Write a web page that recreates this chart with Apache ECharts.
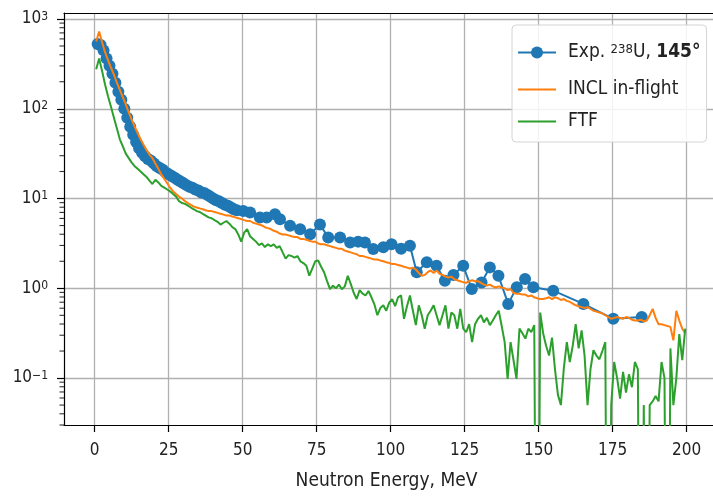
<!DOCTYPE html>
<html><head><meta charset="utf-8">
<script src="https://cdn.jsdelivr.net/npm/echarts@6/dist/echarts.min.js"></script>
<style>html,body{margin:0;padding:0;background:#fff;overflow:hidden}#c{width:720px;height:496px}</style>
</head><body><div id="c"></div>
<script>
// ---------------- data ----------------
const xTickValues = [0, 25, 50, 75, 100, 125, 150, 175, 200];
const yDecadeExponents = [-1, 0, 1, 2, 3];
const expName = 'Exp. 238U, 145°';
const seriesNames = [expName, 'INCL in-flight', 'FTF'];

// bin centres (MeV) shared by the two simulations
const binCentreMeV = [
  0.5,1.5,2.5,3.5,4.5,5.5,6.5,7.5,8.5,9.5,
  10.5,11.5,12.5,13.5,14.5,15.5,16.5,17.5,18.5,19.5,
  20.5,21.5,22.5,23.5,24.5,25.5,26.5,27.5,28.5,29.5,
  30.5,31.5,32.5,33.5,34.5,35.5,36.5,37.5,38.5,39.5,
  40.5,41.5,42.5,43.5,44.5,45.5,46.5,47.5,48.5,49.5,
  50.5,51.5,52.5,53.5,54.5,55.5,56.5,57.5,58.5,59.5,
  60.5,61.5,62.5,63.5,64.5,65.5,66.5,67.5,68.5,69.5,
  70.5,71.5,72.5,73.5,74.5,75.5,76.5,77.5,78.5,79.5,
  80.5,81.5,82.5,83.5,84.5,85.5,86.5,87.5,88.5,89.5,
  90.5,91.5,92.5,93.5,94.5,95.5,96.5,97.5,98.5,99.5,
  100.5,101.5,102.5,103.5,104.5,105.5,106.5,107.5,108.5,109.5,
  110.5,111.5,112.5,113.5,114.5,115.5,116.5,117.5,118.5,119.5,
  120.5,121.5,122.5,123.5,124.5,125.5,126.5,127.5,128.5,129.5,
  130.5,131.5,132.5,133.5,134.5,135.5,136.5,137.5,138.5,139.5,
  140.5,141.5,142.5,143.5,144.5,145.5,146.5,147.5,148.5,149.5,
  150.5,151.5,152.5,153.5,154.5,155.5,156.5,157.5,158.5,159.5,
  160.5,161.5,162.5,163.5,164.5,165.5,166.5,167.5,168.5,169.5,
  170.5,171.5,172.5,173.5,174.5,175.5,176.5,177.5,178.5,179.5,
  180.5,181.5,182.5,183.5,184.5,185.5,186.5,187.5,188.5,189.5,
  190.5,191.5,192.5,193.5,194.5,195.5,196.5,197.5,198.5,199.5
];

const inclYield = [
  562,724,550,427,347,288,240,195,162,135,
  112,91.2,75.9,63.1,53.7,45.7,39.8,34.7,30.9,28.2,
  24.5,21.4,18.6,16.6,14.8,13.2,12.0,11.2,10.5,10.0,
  9.33,8.91,8.51,8.13,7.94,7.76,7.59,7.41,7.24,7.24,
  7.08,6.92,6.76,6.61,6.46,6.46,6.31,6.17,6.03,5.89,
  5.75,5.62,5.62,5.37,5.25,5.13,5.01,4.79,4.68,4.57,
  4.37,4.27,4.07,3.98,3.98,3.89,3.80,3.72,3.72,3.55,
  3.55,3.47,3.39,3.31,3.31,3.16,3.09,3.09,3.02,2.95,
  2.88,2.82,2.75,2.75,2.63,2.57,2.51,2.45,2.40,2.29,
  2.29,2.24,2.19,2.14,2.09,2.09,2.04,2.00,1.95,1.91,
  1.86,1.86,1.82,1.78,1.74,1.70,1.66,1.70,1.62,1.48,
  1.38,1.41,1.51,1.58,1.48,1.58,1.45,1.41,1.35,1.32,
  1.35,1.26,1.23,1.20,1.17,1.15,1.20,1.23,1.20,1.20,
  1.15,1.10,1.07,1.10,1.05,1.02,1.05,1.02,1.00,0.955,
  0.977,0.891,0.871,0.871,0.851,0.851,0.813,0.832,0.794,0.776,
  0.759,0.759,0.776,0.794,0.759,0.794,0.776,0.741,0.759,0.724,
  0.708,0.676,0.646,0.631,0.617,0.603,0.617,0.589,0.562,0.550,
  0.537,0.525,0.501,0.479,0.457,0.468,0.479,0.468,0.457,0.479,
  0.468,0.447,0.437,0.437,0.447,0.427,0.437,0.501,0.589,0.468,
  0.398,0.398,0.389,0.380,0.372,0.263,0.562,0.437,0.355,0.316
];

const ftfYield = [
  275,363,263,186,138,105,79.4,60.3,45.7,38.0,
  31.6,28.2,25.1,22.9,21.4,20.0,18.6,17.4,15.8,14.5,
  16.2,15.1,13.8,13.2,12.6,12.0,11.2,10.5,9.33,8.91,
  8.71,8.32,7.94,7.59,7.24,7.08,6.76,6.46,6.17,6.03,
  5.75,5.50,5.13,5.37,5.62,5.25,4.79,4.57,3.98,3.31,
  4.17,4.57,3.80,3.55,3.31,3.02,3.16,2.88,3.09,2.95,
  3.09,2.82,2.95,2.51,2.14,2.34,2.29,2.19,2.29,2.00,
  1.91,1.78,1.38,1.66,2.00,2.04,1.74,1.51,1.20,0.977,
  1.07,1.00,1.10,0.977,1.05,1.38,1.12,0.891,0.759,0.955,
  0.871,0.832,0.933,0.794,0.661,0.501,0.603,0.646,0.562,0.692,
  0.759,0.631,0.794,0.832,0.457,0.631,0.832,0.562,0.389,0.646,
  0.501,0.355,0.501,0.562,0.646,0.501,0.389,0.501,0.646,0.355,
  0.537,0.501,0.355,0.589,0.355,0.324,0.398,0.251,0.398,0.457,
  0.501,0.417,0.468,0.389,0.437,0.501,0.562,0.380,0.251,0.098,
  0.251,0.158,0.098,0.355,0.316,0.275,0.355,0.324,0.389,0,
  0.537,0.316,0.229,0.178,0.282,0.126,0.065,0.050,0.129,0.251,
  0.151,0.229,0.398,0.214,0.339,0.178,0.050,0.126,0.204,0.178,
  0.162,0.200,0.251,0,0.050,0.151,0.100,0.059,0.117,0.069,
  0.110,0.079,0.151,0.126,0,0.050,0,0.050,0.055,0.063,
  0.055,0.151,0.100,0,0.214,0.050,0.100,0.309,0.158,0.355
];

const expEnergyMeV = [
  1,2,3,4,5,6,7,8,9,10,11,12,13,14,15,16,17,18,19,20,
  21,22,23,24,25,26,27,28,29,30,31,32,33,34,35,36,37,38,39,40,
  41,42,43,44,45,46,47,48,
  50.2,52.5,55.8,58.1,60.9,62.6,66.0,69.4,72.8,76.1,
  78.9,82.9,86.3,89.0,91.3,94.1,97.5,100.3,103.5,106.5,
  108.8,112.2,115.5,118.3,121.2,124.5,127.4,130.7,133.5,136.4,
  139.7,142.6,145.4,148.2,154.9,165.1,175.2,184.8
];
const expYield = [
  525,513,447,363,302,245,195,155,126,100,79.4,63.1,51.3,42.7,36.3,32.4,29.5,27.5,26.3,24.5,
  22.9,21.9,20.9,19.5,18.6,17.8,17.0,16.2,15.5,14.8,14.1,13.5,13.2,12.6,12.3,11.7,11.5,11.0,10.5,10.0,
  9.55,9.33,8.91,8.51,8.32,7.94,7.59,7.41,
  7.28,6.98,6.15,6.15,6.70,5.89,4.97,4.56,4.01,5.13,
  3.69,3.69,3.24,3.31,3.24,2.74,2.86,3.10,2.75,2.98,
  1.51,1.95,1.78,1.21,1.41,1.78,0.98,1.16,1.71,1.38,
  0.67,1.03,1.27,1.03,0.94,0.67,0.457,0.479
];

// ---------------- chart ----------------
const FONT = "'DejaVu Sans Condensed', 'DejaVu Sans', sans-serif";
const TXT = '#222';
// the plot frame runs past the right edge of the 713 px view, as in the reference
const X_MIN = -10.37, X_MAX = 209.9;
const yLow = 0.03, yHigh = 1166;
const toLog = v => (v > 0 ? Math.log10(v) : -6);   // zero bins fall off the bottom, as in a log plot
const pairs = (xs, ys) => xs.map((x, i) => [x, toLog(ys[i])]);

// minor log ticks (2..9 x 10^n) drawn as short marks on the left spine
const minorTickMarks = [];
for (let n = -2; n <= 2; n++) {
  for (let k = 2; k <= 9; k++) {
    const v = Math.log10(k * Math.pow(10, n));
    if (v >= Math.log10(yLow) && v <= Math.log10(yHigh)) minorTickMarks.push([X_MIN, v]);
  }
}

const chart = echarts.init(document.getElementById('c'), null, {renderer: 'canvas'});
chart.setOption({
  animation: false,
  backgroundColor: '#fff',
  grid: {left: 64, right: 4, top: 13, bottom: 69, show: false},
  xAxis: [{
    type: 'value', min: X_MIN, max: X_MAX, position: 'bottom',
    axisLine: {show: true, onZero: false, lineStyle: {color: '#000', width: 1.2}},
    axisTick: {show: true, customValues: xTickValues, length: 7, lineStyle: {color: '#000', width: 1.2}},
    axisLabel: {customValues: xTickValues, margin: 17, color: TXT, fontFamily: FONT, fontSize: 17},
    splitLine: {show: true, lineStyle: {color: '#b0b0b0', width: 1.3}},
    name: 'Neutron Energy, MeV', nameLocation: 'middle', nameGap: 47,
    nameTextStyle: {color: TXT, fontFamily: FONT, fontSize: 19, padding: [0, 7, 0, 0]}
  }, {
    type: 'value', min: X_MIN, max: X_MAX, position: 'top',
    axisLine: {show: true, onZero: false, lineStyle: {color: '#000', width: 1.2}},
    axisTick: {show: false}, axisLabel: {show: false}, splitLine: {show: false}
  }],
  yAxis: [{
    type: 'value', position: 'left', min: Math.log10(yLow), max: Math.log10(yHigh),
    axisLine: {show: true, onZero: false, lineStyle: {color: '#000', width: 1.2}},
    axisTick: {show: true, customValues: yDecadeExponents, length: 7, lineStyle: {color: '#000', width: 1.2}},
    axisLabel: {
      customValues: yDecadeExponents, margin: 16, color: TXT, fontFamily: FONT,
      formatter: v => '{b|10}{s|' + (v < 0 ? '\u2212' + (-v) : v) + '}',
      rich: {
        b: {fontFamily: FONT, fontSize: 17, lineHeight: 17, color: TXT, verticalAlign: 'bottom', padding: [5, 0, 0, 0]},
        s: {fontFamily: FONT, fontSize: 12, lineHeight: 12, color: TXT, verticalAlign: 'top'}
      }
    },
    splitLine: {show: true, lineStyle: {color: '#b0b0b0', width: 1.3}}
  }],
  legend: {
    data: [
      {name: seriesNames[0]},
      {name: seriesNames[1], itemStyle: {opacity: 0}},
      {name: seriesNames[2], itemStyle: {opacity: 0}}
    ],
    orient: 'vertical', left: 512, top: 25,
    padding: [18, 6, 11, 5], itemGap: 13, itemWidth: 38, itemHeight: 15,
    backgroundColor: 'rgba(255,255,255,0.85)', borderColor: '#d4d4d4', borderWidth: 1, borderRadius: 4,
    formatter: name => name === expName
      ? '{f|Exp. }{sup|238}{n|U, }{bd|145°}'
      : '{f|' + name + '}',
    textStyle: {
      fontFamily: FONT, fontSize: 19, color: TXT,
      rich: {
        f: {fontFamily: FONT, fontSize: 19, lineHeight: 19, color: TXT, verticalAlign: 'bottom', padding: [0, 0, 0, 7]},
        n: {fontFamily: FONT, fontSize: 19, lineHeight: 19, color: TXT, verticalAlign: 'bottom'},
        bd: {fontFamily: FONT, fontSize: 19, lineHeight: 19, color: TXT, fontWeight: 'bold', verticalAlign: 'bottom'},
        sup: {fontFamily: FONT, fontSize: 13, lineHeight: 13, color: TXT, verticalAlign: 'top', padding: [0, 0, 11, 0]}
      }
    }
  },
  series: [{
    name: expName, type: 'line', data: pairs(expEnergyMeV, expYield),
    symbol: 'circle', symbolSize: 12, showSymbol: true, showAllSymbol: true,
    lineStyle: {width: 2, color: '#1f77b4'}, itemStyle: {color: '#1f77b4', borderWidth: 0},
    clip: true, z: 2
  }, {
    name: 'INCL in-flight', type: 'line', data: pairs(binCentreMeV, inclYield),
    symbol: 'none', showSymbol: false,
    lineStyle: {width: 2, color: '#ff7f0e'}, itemStyle: {color: '#ff7f0e'},
    clip: true, z: 3
  }, {
    name: 'FTF', type: 'line', data: pairs(binCentreMeV, ftfYield),
    symbol: 'none', showSymbol: false,
    lineStyle: {width: 2, color: '#2ca02c'}, itemStyle: {color: '#2ca02c'},
    clip: true, z: 4
  }, {
    name: 'minor ticks', type: 'scatter', data: minorTickMarks,
    symbol: 'rect', symbolSize: [4.5, 1.1], symbolOffset: [-2.25, 0],
    itemStyle: {color: '#000'}, silent: true, clip: false, z: 5,
    tooltip: {show: false}
  }]
});
</script>
</body></html>
